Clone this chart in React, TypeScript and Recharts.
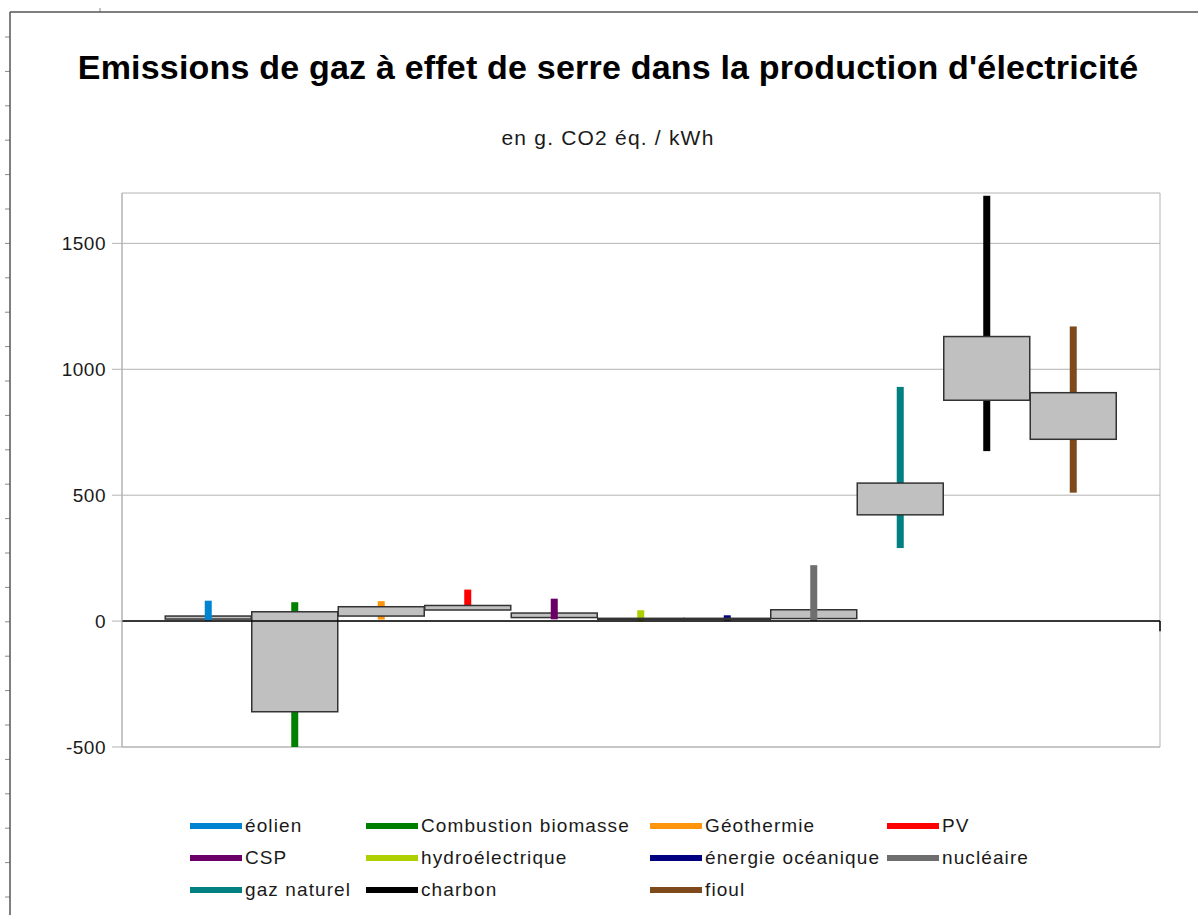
import React from "react";
import {
  ComposedChart,
  Bar,
  XAxis,
  YAxis,
  CartesianGrid,
  ReferenceLine,
  ReferenceArea,
} from "recharts";

const categories = [
  "éolien",
  "Combustion biomasse",
  "Géothermie",
  "PV",
  "CSP",
  "hydroélectrique",
  "énergie océanique",
  "nucléaire",
  "gaz naturel",
  "charbon",
  "fioul",
];

// min / max of each range, box = open..close (open > close: wick drawn over the box)
const lows = [2, -633, 6, 45, 7, 0, 2, 1, 290, 675, 510];
const opens = [20, -360, 20, 44, 32, 7, 7, 45, 422, 877, 722];
const closes = [8, 37, 57, 62, 14, 11, 11, 10, 548, 1130, 907];
const highs = [81, 75, 79, 125, 89, 43, 23, 222, 930, 1689, 1170];

const colors = [
  "#0084d1",
  "#008000",
  "#ff950e",
  "#ff0000",
  "#6a0066",
  "#aecf00",
  "#000080",
  "#6e6e6e",
  "#008080",
  "#000000",
  "#7e4a1b",
];

const yTicks = [-500, 0, 500, 1000, 1500];
const xTicks = [0, 1, 2, 3, 4, 5, 6, 7, 8, 9, 10, 11, 12];

const FONT = '"Liberation Sans", Arial, sans-serif';

const data = categories.map((name, i) => ({
  pos: i + 1,
  name,
  range: [lows[i], highs[i]],
  open: opens[i],
  close: closes[i],
  color: colors[i],
}));

function Candle(props: any) {
  const { x, width, payload } = props;
  let { y, height } = props;
  if (height < 0) {
    y += height;
    height = -height;
  }
  const [lo, hi] = payload.range;
  const k = height / (hi - lo);
  const yOf = (v: number) => y + (hi - v) * k;
  const cx = x + width / 2;
  const top = Math.max(payload.open, payload.close);
  const bot = Math.min(payload.open, payload.close);

  const wick = (
    <rect key="w" x={cx - 3.5} y={y} width={7} height={height} fill={payload.color} />
  );
  const box = (
    <rect
      key="b"
      x={x}
      y={yOf(top)}
      width={width}
      height={Math.max((top - bot) * k, 0.5)}
      fill="#c0c0c0"
      stroke="#333333"
      strokeWidth={1.5}
    />
  );
  return <g>{payload.open > payload.close ? [box, wick] : [wick, box]}</g>;
}

function Frame() {
  const ticks = [];
  for (let i = 0; i < 27; i++) {
    ticks.push(
      <line key={i} x1={5} x2={10} y1={37 + i * 34.4} y2={37 + i * 34.4} stroke="#888" strokeWidth={1} />
    );
  }
  return (
    <svg
      width={1198}
      height={915}
      style={{ position: "absolute", left: 0, top: 0, pointerEvents: "none" }}
    >
      {ticks}
      <line x1={100} x2={100} y1={8} y2={12} stroke="#888" strokeWidth={1} />
      <line x1={10} x2={1198} y1={12} y2={12} stroke="#555" strokeWidth={1.5} />
      <line x1={10} x2={10} y1={12} y2={915} stroke="#555" strokeWidth={1.5} />
    </svg>
  );
}

function LegendBox() {
  return (
    <div
      style={{
        position: "absolute",
        left: 190,
        top: 810,
        display: "grid",
        gridTemplateColumns: "176px 284px 237px auto",
        gridAutoRows: "32px",
        fontFamily: FONT,
        fontSize: 19,
        letterSpacing: 1.1,
        color: "#1a1a1a",
      }}
    >
      {categories.map((name, i) => (
        <div key={name} style={{ display: "flex", alignItems: "center", whiteSpace: "nowrap" }}>
          <span
            style={{
              display: "inline-block",
              width: 52,
              height: 6,
              background: colors[i],
              marginRight: 3,
            }}
          />
          <span>{name}</span>
        </div>
      ))}
    </div>
  );
}

export default function App() {
  return (
    <div style={{ position: "absolute", left: 0, top: 0, width: 1198, height: 915, background: "#fff" }}>
      <Frame />
      <div
        style={{
          position: "absolute",
          left: 10,
          width: 1196,
          top: 47,
          textAlign: "center",
          fontFamily: FONT,
          fontWeight: "bold",
          fontSize: 34,
          letterSpacing: 0.2,
          lineHeight: "40px",
          color: "#000",
        }}
      >
        Emissions de gaz à effet de serre dans la production d'électricité
      </div>
      <div
        style={{
          position: "absolute",
          left: 10,
          width: 1196,
          top: 124,
          textAlign: "center",
          fontFamily: FONT,
          fontSize: 21,
          letterSpacing: 1.2,
          lineHeight: "28px",
          color: "#1a1a1a",
        }}
      >
        en g. CO2 éq. / kWh
      </div>
      <div style={{ position: "absolute", left: 0, top: 0 }}>
        <ComposedChart
          width={1198}
          height={915}
          data={data}
          margin={{ top: 193, right: 38, bottom: 168, left: 0 }}
        >
          <CartesianGrid vertical={false} stroke="#b3b3b3" horizontalValues={yTicks} />
          <ReferenceArea
            x1={0}
            x2={12}
            y1={-500}
            y2={1700}
            fill="none"
            stroke="#b3b3b3"
            strokeWidth={1}
          />
          <XAxis
            type="number"
            dataKey="pos"
            domain={[0, 12]}
            ticks={xTicks}
            hide
          />
          <YAxis
            width={122}
            domain={[-500, 1700]}
            ticks={yTicks}
            allowDataOverflow
            interval={0}
            tickSize={10}
            tickMargin={6}
            stroke="#b3b3b3"
            tick={{ fill: "#1a1a1a", fontSize: 19, fontFamily: FONT, letterSpacing: 0.5 }}
          />
          <ReferenceLine y={0} stroke="#000" strokeWidth={1.5} />
          <ReferenceLine
            segment={[
              { x: 12, y: 0 },
              { x: 12, y: -40 },
            ]}
            stroke="#000"
            strokeWidth={1.5}
          />
          <Bar
            dataKey="range"
            barSize={86}
            shape={<Candle />}
            isAnimationActive={false}
          />
        </ComposedChart>
      </div>
      <LegendBox />
    </div>
  );
}
